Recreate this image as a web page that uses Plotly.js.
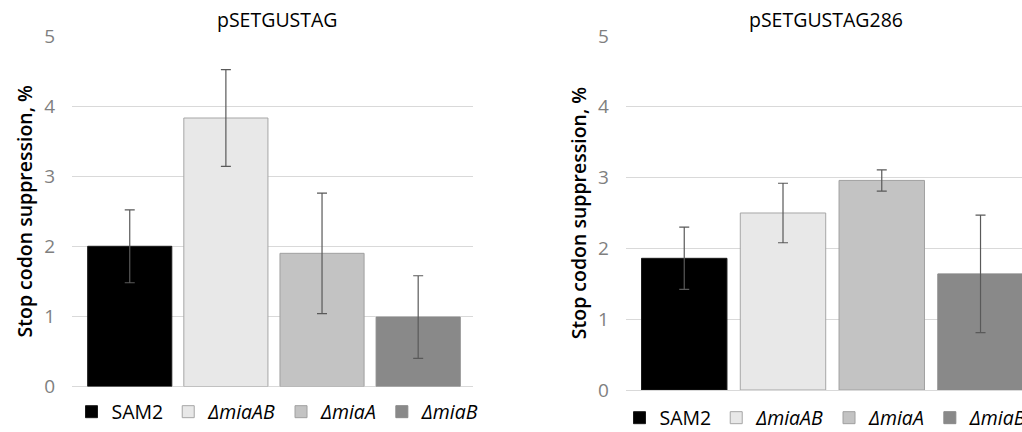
<!DOCTYPE html>
<html>
<head>
<meta charset="utf-8">
<script src="https://cdn.plot.ly/plotly-3.0.1.min.js"></script>
<style>html,body{margin:0;padding:0;background:#fff;overflow:hidden;width:1022px;height:432px;}#chart{width:1022px;height:432px;overflow:hidden;}</style>
</head>
<body>
<div id="chart"></div>
<script>
const strains = ["SAM2", "ΔmiaAB", "ΔmiaA", "ΔmiaB"];
const legendLabels = ["SAM2", "<i>ΔmiaAB</i>", "<i>ΔmiaA</i>", "<i>ΔmiaB</i>"];
const panelTitles = ["pSETGUSTAG", "pSETGUSTAG286"];
const leftValues = [2.0, 3.83, 1.90, 0.99];
const leftErrors = [0.52, 0.69, 0.86, 0.59];
const rightValues = [1.86, 2.50, 2.96, 1.64];
const rightErrors = [0.44, 0.42, 0.15, 0.83];
const yTicks = [0, 1, 2, 3, 4, 5];
const yTitle = "Stop codon suppression, %";

const fills = ["#000000", "#e8e8e8", "#c3c3c3", "#898989"];
const lines = ["#1a1a1a", "#a6a6a6", "#a0a0a0", "#898989"];
const FONT = "Open Sans, sans-serif";

const traces = [];
function addPanel(values, errors, xa, ya, legendId, widthFrac) {
  strains.forEach((s, i) => {
    traces.push({
      type: "bar",
      x: [s],
      y: [values[i]],
      name: legendLabels[i],
      xaxis: xa, yaxis: ya,
      legend: legendId,
      width: widthFrac,
      marker: {color: fills[i], line: {color: lines[i], width: 1}},
      error_y: {type: "data", array: [errors[i]], visible: true, color: "#595959", thickness: 1.2, width: 5},
      hoverinfo: "x+y"
    });
  });
}
addPanel(leftValues, leftErrors, "x", "y", "legend", 0.875);
addPanel(rightValues, rightErrors, "x2", "y2", "legend2", 0.865);

const yaxisBase = {
  range: [0, 5],
  tickvals: yTicks,
  showgrid: true, gridcolor: "#d9d9d9", gridwidth: 1,
  zeroline: true, zerolinecolor: "#d9d9d9", zerolinewidth: 1,
  showline: false, ticks: "",
  ticklabelstandoff: 16,
  automargin: false,
  tickfont: {family: FONT, size: 19, color: "#7f7f7f"},
  fixedrange: true
};
const xaxisBase = {
  type: "category",
  showticklabels: false, showgrid: false, zeroline: false, showline: false, ticks: "",
  automargin: false,
  fixedrange: true
};

const layout = {
  width: 1022, height: 432,
  autosize: false,
  margin: {l: 0, r: 0, t: 0, b: 0, pad: 0, autoexpand: false},
  paper_bgcolor: "#ffffff", plot_bgcolor: "#ffffff",
  barmode: "overlay",
  showlegend: true,
  font: {family: FONT, color: "#000"},
  xaxis: Object.assign({}, xaxisBase, {domain: [0.0705, 0.4628], range: [-0.6, 3.57], anchor: "y"}),
  yaxis: Object.assign({}, yaxisBase, {domain: [0.1053, 0.9167], anchor: "x",
    title: {text: yTitle, font: {family: FONT, size: 19.5, weight: 600, color: "#000"}, standoff: 6}}),
  xaxis2: Object.assign({}, xaxisBase, {domain: [0.6125, 1.0], range: [-0.59, 3.42], anchor: "y2"}),
  yaxis2: Object.assign({}, yaxisBase, {domain: [0.0972, 0.9167], anchor: "x2",
    title: {text: yTitle, font: {family: FONT, size: 19.5, weight: 600, color: "#000"}, standoff: 6}}),
  legend: {orientation: "h", xref: "container", yref: "container", x: 278/1022, xanchor: "center", y: (432-412)/432, yanchor: "middle",
    font: {family: FONT, size: 19.5, color: "#000"}, itemclick: false, itemdoubleclick: false, traceorder: "normal"},
  legend2: {orientation: "h", xref: "container", yref: "container", x: 826/1022, xanchor: "center", y: (432-418)/432, yanchor: "middle",
    font: {family: FONT, size: 19.5, color: "#000"}, itemclick: false, itemdoubleclick: false, traceorder: "normal"},
  annotations: [
    {text: panelTitles[0], xref: "paper", yref: "paper", x: 277/1022, y: 1 - 19/432, xanchor: "center", yanchor: "middle",
      showarrow: false, font: {family: FONT, size: 19.5, color: "#000"}},
    {text: panelTitles[1], xref: "paper", yref: "paper", x: 826/1022, y: 1 - 19/432, xanchor: "center", yanchor: "middle",
      showarrow: false, font: {family: FONT, size: 19.5, color: "#000"}}
  ]
};

Plotly.newPlot("chart", traces, layout, {displayModeBar: false, staticPlot: true});
</script>
</body>
</html>
